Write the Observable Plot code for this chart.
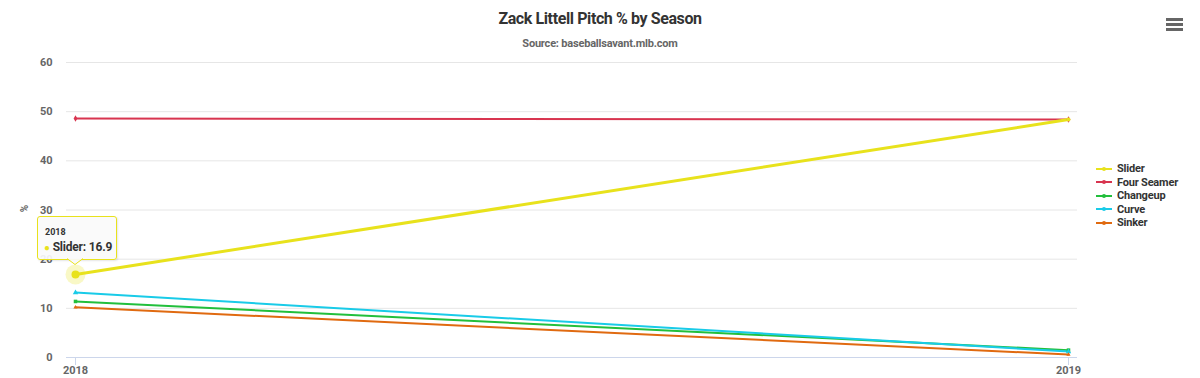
<!DOCTYPE html>
<html><head><meta charset="utf-8">
<script src="https://cdn.jsdelivr.net/npm/d3@7"></script>
<script src="https://cdn.jsdelivr.net/npm/@observablehq/plot@0.6"></script>
<style>
body{margin:0;background:#fff;font-family:Roboto,"Noto Sans",sans-serif;}
#wrap{position:relative;width:1200px;height:378px;overflow:hidden;background:#fff;}
#head{height:54px;text-align:center;position:relative;}
#title{position:absolute;left:0;right:0;top:9px;font-size:16px;font-weight:700;color:#333;letter-spacing:-0.4px;}
#sub{position:absolute;left:0;right:0;top:37px;font-size:11px;font-weight:700;color:#666;letter-spacing:-0.2px;}
#legend{position:absolute;left:1096px;top:162px;}
.li{height:13.5px;display:flex;align-items:center;font-size:11px;font-weight:700;color:#333;letter-spacing:-0.2px;}
.li svg{margin-right:5px;}
#menu{position:absolute;left:1166px;top:18px;}
#menu div{width:17px;height:3px;background:#666;margin-bottom:2px;}
#ylab{position:absolute;left:21px;top:203px;font-size:10px;font-weight:700;color:#666;transform:rotate(-90deg);}
#tip{position:absolute;left:37px;top:216px;width:78px;height:42px;border:1px solid #e8e21c;background:rgba(250,250,250,0.92);border-radius:3px;box-shadow:1px 1px 2px rgba(0,0,0,0.1);}
#tip .a{position:absolute;left:7px;top:10px;font-size:9px;font-weight:700;color:#333;}
#tip .b{position:absolute;left:6px;top:23px;font-size:12px;font-weight:700;color:#333;letter-spacing:-0.2px;}
#tip .b span{color:#e8e21c;font-size:10px;}
#ptr{position:absolute;left:67px;top:258px;}
</style></head>
<body><div id="wrap">
<div id="head"><div id="title">Zack Littell Pitch % by Season</div><div id="sub">Source: baseballsavant.mlb.com</div></div>
<div id="chart"></div>
<div id="legend"></div>
<div id="menu"><div></div><div></div><div></div></div>
<div id="ylab">%</div>
<div id="tip"><div class="a">2018</div><div class="b"><span>●</span> Slider: 16.9</div></div>
<svg id="ptr" width="18" height="8"><path d="M0,0.5 L8,6.5 L16,0.5" fill="rgba(250,250,250,0.92)" stroke="#e8e21c" stroke-width="1"/></svg>
</div>
<script>
const seasons = [2018, 2019];
const pitchTypes = ["Slider", "Four Seamer", "Changeup", "Curve", "Sinker"];
const pitchColors = ["#e8e21c", "#d8344f", "#22bf3c", "#19cbe8", "#e06a10"];
const sliderPct = [16.9, 48.4];
const fourSeamerPct = [48.6, 48.4];
const changeupPct = [11.4, 1.5];
const curvePct = [13.2, 1.2];
const sinkerPct = [10.2, 0.6];
const yTicks = [0, 10, 20, 30, 40, 50, 60];
const symbols = ["circle", "diamond", "square", "triangle", "triangle2"];

const seriesValues = [sliderPct, fourSeamerPct, changeupPct, curvePct, sinkerPct];
const rows = [];
pitchTypes.forEach((p, i) => seasons.forEach((s, j) => rows.push({pitch: p, season: s, pct: seriesValues[i][j]})));
const drawOrder = ["Four Seamer", "Changeup", "Curve", "Sinker", "Slider"];

const plot = Plot.plot({
  width: 1200, height: 324,
  marginTop: 8, marginBottom: 21, marginLeft: 66, marginRight: 123,
  x: {domain: [2018, 2019], inset: 9},
  y: {domain: [0, 60]},
  color: {domain: pitchTypes, range: pitchColors},
  symbol: {domain: pitchTypes, range: symbols},
  style: {fontFamily: "Roboto, sans-serif", fontSize: "11px", fontWeight: 700, overflow: "visible"},
  marks: [
    Plot.ruleY(yTicks.slice(1), {stroke: "#e6e6e6", strokeWidth: 1}),
    Plot.ruleY([0], {stroke: "#ccd6eb", strokeWidth: 1}),
    Plot.axisY({ticks: yTicks, tickSize: 0, tickPadding: 14, fill: "#666", label: null}),
    Plot.axisX({ticks: seasons, tickFormat: d => String(d), tickSize: 8, tickPadding: 1, stroke: "#ccd6eb", fill: "#666", label: null}),
    Plot.dot(rows.filter(d => d.pitch === "Slider" && d.season === 2018), {x: "season", y: "pct", r: 10, fill: pitchColors[0], fillOpacity: 0.25}),
    ...drawOrder.map(p => Plot.line(rows.filter(d => d.pitch === p), {x: "season", y: "pct", stroke: "pitch", strokeWidth: p === "Slider" ? 3 : 2})),
    ...drawOrder.map(p => Plot.dot(rows.filter(d => d.pitch === p), {x: "season", y: "pct", fill: "pitch", symbol: "pitch", r: 2})),
    Plot.dot(rows.filter(d => d.pitch === "Slider" && d.season === 2018), {x: "season", y: "pct", r: 4, fill: pitchColors[0]})
  ]
});
document.getElementById("chart").appendChild(plot);

const leg = document.getElementById("legend");
pitchTypes.forEach((p, i) => {
  const div = document.createElement("div");
  div.className = "li";
  div.innerHTML = `<svg width="16" height="6"><line x1="0" x2="16" y1="3" y2="3" stroke="${pitchColors[i]}" stroke-width="2"/><circle cx="8" cy="3" r="2" fill="${pitchColors[i]}"/></svg>${p}`;
  leg.appendChild(div);
});
</script>
</body></html>
